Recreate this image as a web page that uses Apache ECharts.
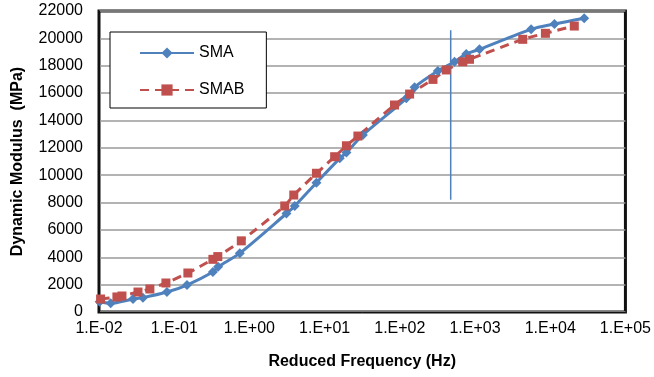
<!DOCTYPE html>
<html>
<head>
<meta charset="utf-8">
<script src="https://cdn.jsdelivr.net/npm/echarts@6/dist/echarts.min.js"></script>
<style>
  html, body { margin: 0; padding: 0; background: #fff; }
  #chart { width: 654px; height: 377px; }
</style>
</head>
<body>
<div id="chart"></div>
<script>
// reduced frequency (Hz) / dynamic modulus (MPa)
var smaFreq = [0.0102, 0.0143, 0.0283, 0.0384, 0.08, 0.148, 0.327, 0.384, 0.746,
               3.11, 4.01, 7.79, 15.9, 19.5, 32.3, 122, 157, 320, 534, 764, 1148,
               5570, 11370, 28300];
var smaMod  = [750, 640, 950, 1050, 1460, 1970, 2920, 3300, 4300,
               7200, 7750, 9450, 11230, 11650, 12940, 15620, 16420, 17610, 18290, 18860, 19200,
               20660, 21050, 21470];
var smabFreq = [0.0105, 0.0173, 0.0202, 0.033, 0.0475, 0.0776, 0.152, 0.327, 0.38, 0.78,
                2.95, 3.89, 7.79, 13.6, 19.5, 27.7, 85, 135, 276, 415, 689, 845,
                4310, 8630, 20900];
var smabMod  = [950, 1100, 1170, 1460, 1680, 2120, 2850, 3850, 4050, 5200,
                7750, 8550, 10140, 11350, 12150, 12860, 15130, 15930, 17000, 17690, 18290, 18470,
                19930, 20370, 20900];
// the thin vertical marker line
var markFreq = [475, 475];
var markMod  = [8200, 20600];

var blue = "#4F81BD", red = "#C0504D";
var font = '"Liberation Sans", Arial, sans-serif';

function pairs(xs, ys) {
  return xs.map(function (x, i) { return [x, ys[i]]; });
}

var chart = echarts.init(document.getElementById("chart"), null, { renderer: "canvas" });
chart.setOption({
  animation: false,
  textStyle: { fontFamily: font },
  grid: {
    left: 99, right: 28, top: 11, bottom: 65,
    show: true, borderColor: "#111", borderWidth: 3
  },
  legend: {
    data: ["SMA", "SMAB"],
    orient: "vertical",
    left: 110, top: 32,
    padding: [13, 22, 10, 29],
    itemWidth: 54, itemHeight: 14, itemGap: 21,
    backgroundColor: "#fff",
    borderColor: "#000", borderWidth: 1,
    textStyle: { fontFamily: font, fontSize: 16, color: "#000" }
  },
  xAxis: {
    type: "log",
    logBase: 10,
    min: 0.01, max: 100000,
    name: "Reduced Frequency (Hz)",
    nameLocation: "middle",
    nameGap: 42,
    nameTextStyle: { fontFamily: font, fontSize: 16, fontWeight: "bold", color: "#000" },
    axisLine: { lineStyle: { color: "#111", width: 1 } },
    axisTick: { show: false },
    splitLine: { show: false },
    minorSplitLine: { show: false },
    axisLabel: {
      margin: 9,
      fontFamily: font, fontSize: 16, color: "#000",
      formatter: function (v) {
        var e = Math.round(Math.log10(v));
        var s = Math.abs(e) < 10 ? "0" + Math.abs(e) : "" + Math.abs(e);
        return "1.E" + (e < 0 ? "-" : "+") + s;
      }
    }
  },
  yAxis: {
    type: "value",
    min: 0, max: 22000, interval: 2000,
    name: "Dynamic Modulus  (MPa)",
    nameLocation: "middle",
    nameGap: 73,
    nameTextStyle: { fontFamily: font, fontSize: 16, fontWeight: "bold", color: "#000" },
    axisLine: { show: true, lineStyle: { color: "#111", width: 1 } },
    axisTick: { show: false },
    splitLine: { lineStyle: { color: "#9a9a9a", width: 1.5 } },
    axisLabel: {
      margin: 16, fontFamily: font, fontSize: 16, color: "#000",
      formatter: function (v) { return String(v); }
    }
  },
  series: [
    {
      name: "SMA",
      type: "line",
      smooth: 0.3,
      data: pairs(smaFreq, smaMod),
      symbol: "diamond",
      symbolSize: 10,
      lineStyle: { color: blue, width: 3 },
      itemStyle: { color: blue }
    },
    {
      name: "SMAB",
      type: "line",
      smooth: 0.2,
      data: pairs(smabFreq, smabMod),
      symbol: "rect",
      symbolSize: 9,
      lineStyle: { color: red, width: 3, type: [9, 6] },
      itemStyle: { color: red }
    },
    {
      name: "marker",
      type: "line",
      data: pairs(markFreq, markMod),
      symbol: "none",
      lineStyle: { color: blue, width: 1.5 },
      silent: true
    }
  ]
});
</script>
</body>
</html>
